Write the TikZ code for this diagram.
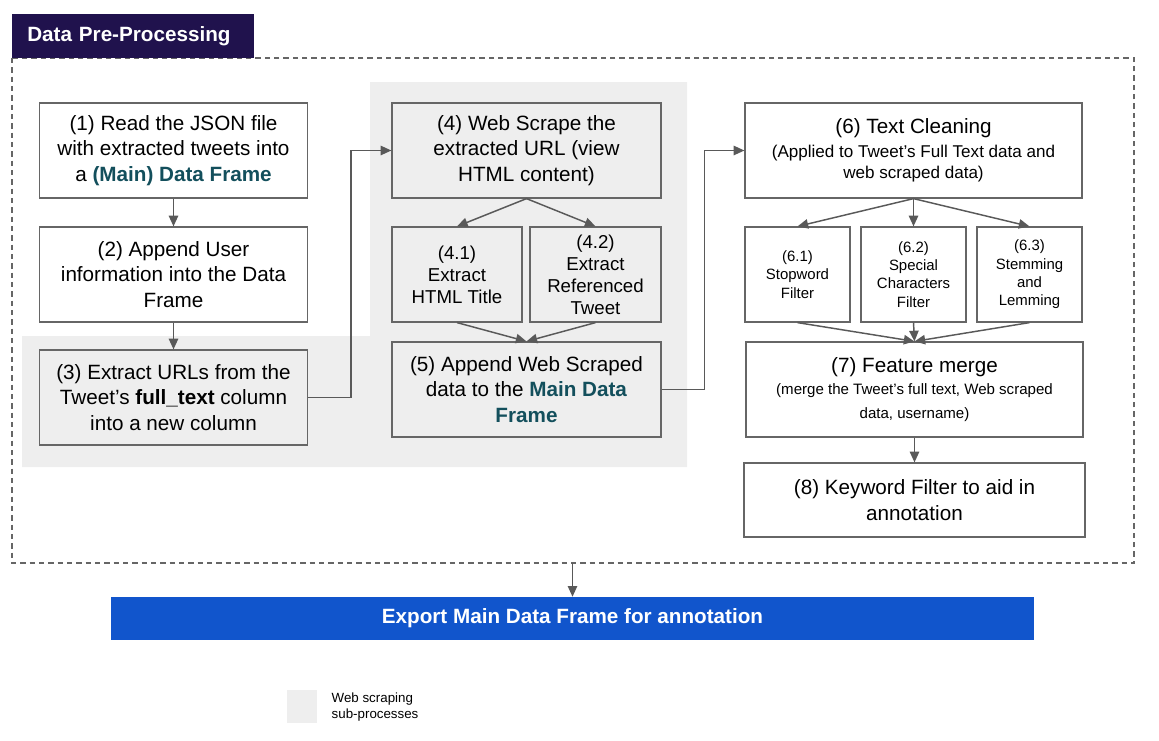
\documentclass[tikz,border=0pt]{standalone}
\usepackage{fontspec}
\setmainfont{Liberation Sans}
\usetikzlibrary{positioning, arrows.meta}
\definecolor{hdrpurple}{HTML}{20124D}
\definecolor{scrapegray}{HTML}{EEEEEE}
\definecolor{edgegray}{HTML}{666666}
\definecolor{arrowgray}{HTML}{595959}
\definecolor{dfteal}{HTML}{134F5C}
\definecolor{exportblue}{HTML}{1155CC}
\newcommand{\df}[1]{\textcolor{dfteal}{\textbf{#1}}}
\newcommand{\subtxt}[1]{{\fontsize{12.8}{15}\selectfont #1}}
\newcommand{\minitxt}[1]{{\fontsize{11.3}{14}\selectfont #1}}

\begin{document}
\begin{tikzpicture}[x=0.75pt, y=-0.75pt]
\tikzstyle{box}=[draw=edgegray, line width=0.9pt, fill=white, align=center, inner sep=2pt, font=\fontsize{15.5}{19}\selectfont, minimum width=201pt, minimum height=71.25pt]
\tikzstyle{scrapebox}=[box, fill=scrapegray]
\tikzstyle{halfbox}=[scrapebox, minimum width=97.5pt, font=\fontsize{14}{16.5}\selectfont]
\tikzstyle{smallbox}=[box, minimum width=78.75pt, font=\fontsize{11.2}{13.7}\selectfont]
\tikzstyle{widebox}=[box, minimum width=252.75pt]
\tikzstyle{arr}=[draw=arrowgray, line width=1.1pt, -{Triangle[length=8pt, width=7pt]}]
\useasboundingbox (0,0) rectangle (1159,740);
% web scraping region and outer frame
\fill[scrapegray] (370,82) -- (687,82) -- (687,467) -- (22,467) -- (22,336) -- (370,336) -- cycle;
\draw[edgegray, line width=0.8pt, dash pattern=on 4pt off 3pt] (12,58) rectangle (1134,563);
\node[fill=hdrpurple, text=white, anchor=west, inner xsep=11.25pt, text width=159pt, minimum height=33pt, align=left, font=\fontsize{15.5}{18}\selectfont\bfseries] (hdr) at (12,36) {Data Pre-Processing};
% left column
\node[box] (b1) at (173.5,150.5) {(1) Read the JSON file\\with extracted tweets into\\a \df{(Main) Data Frame}};
\node[box] (b2) at (173.5,274.5) {(2) Append User\\information into the Data\\Frame};
\node[scrapebox] (b3) at (173.5,397.5) {(3) Extract URLs from the\\Tweet's \textbf{full\_text} column\\into a new column};
% middle column
\node[scrapebox, minimum width=201.75pt] (b4) at (526.5,150.5) {(4) Web Scrape the\\extracted URL (view\\HTML content)};
\node[halfbox] (b41) at (457,274.5) {(4.1)\\Extract\\HTML Title};
\node[halfbox, minimum width=98.25pt] (b42) at (595.5,274.5) {(4.2)\\Extract\\Referenced\\Tweet};
\node[scrapebox, minimum width=201.75pt] (b5) at (526.5,389.5) {(5) Append Web Scraped\\data to the \df{Main Data}\\\df{Frame}};
% right column
\node[widebox] (b6) at (913.5,150.5) {(6) Text Cleaning\\[-1pt]\subtxt{(Applied to Tweet's Full Text data and}\\[-3.5pt]\subtxt{web scraped data)}};
\node[smallbox] (b61) at (797.5,274.5) {(6.1)\\Stopword\\Filter};
\node[smallbox] (b62) at (913.5,274.5) {(6.2)\\Special\\Characters\\Filter};
\node[smallbox] (b63) at (1029.5,274.5) {(6.3)\\Stemming\\and\\Lemming};
\node[widebox] (b7) at (914.5,389.5) {(7) Feature merge\\[-2.5pt]\minitxt{(merge the Tweet's full text, Web scraped}\\[-1.5pt]\minitxt{data, username)}};
\node[widebox, minimum width=255.75pt, minimum height=55.5pt] (b8) at (914.5,500) {(8) Keyword Filter to aid in\\annotation};
% export
\node[fill=exportblue, text=white, minimum width=692.25pt, minimum height=32.25pt, font=\fontsize{15.5}{18}\selectfont\bfseries] (export) at (572.5,618.5) {Export Main Data Frame for annotation};
\coordinate (framebot) at (572.5,563);
% legend
\fill[scrapegray] (287,690) rectangle (317,723);
\node[anchor=west, align=left, font=\fontsize{10}{11.5}\selectfont] (legend) at (327,707) {Web scraping\\sub-processes};
% connectors
\draw[arr] (b1) -- (b2);
\draw[arr] (b2) -- (b3);
\draw[arr] (b3.east) -- ++(43,0) |- (b4.west);
\draw[arr] (b4.south) -- (b41.north);
\draw[arr] (b4.south) -- (b42.north);
\draw[arr] (b41.south) -- (b5.north);
\draw[arr] (b42.south) -- (b5.north);
\draw[arr] (b5.east) -- ++(43,0) |- (b6.west);
\draw[arr] (b6.south) -- (b61.north);
\draw[arr] (b6.south) -- (b62.north);
\draw[arr] (b6.south) -- (b63.north);
\draw[arr] (b61.south) -- (b7.north);
\draw[arr] (b62.south) -- (b7.north);
\draw[arr] (b63.south) -- (b7.north);
\draw[arr] (b7) -- (b8);
\draw[arr] (framebot) -- (export.north);
\end{tikzpicture}
\end{document}
